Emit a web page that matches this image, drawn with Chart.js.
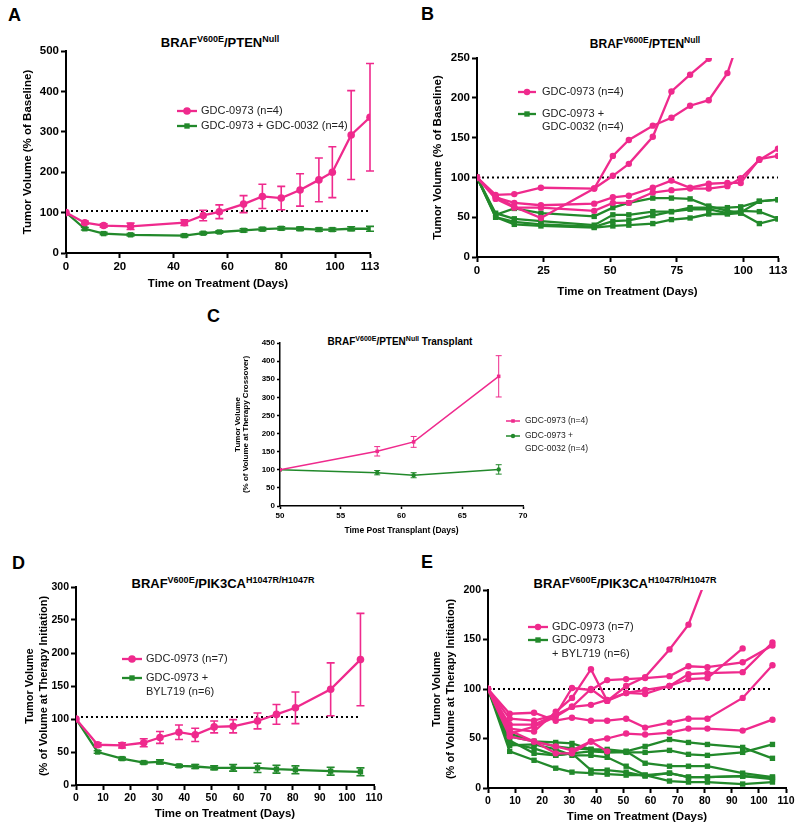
<!DOCTYPE html>
<html>
<head>
<meta charset="utf-8">
<script src="https://cdn.jsdelivr.net/npm/chart.js@4.4.1/dist/chart.umd.min.js"></script>
<style>
  body { margin: 0; background: #fff; font-family: 'Liberation Sans', Arial, sans-serif; }
  #fig { position: relative; width: 800px; height: 832px; overflow: hidden; background: #fff; }
  .box { position: absolute; }
  .lbl { position: absolute; font-weight: bold; font-size: 18px; line-height: 18px; }
  .ttl { position: absolute; width: 320px; text-align: center; font-weight: bold; white-space: nowrap; color: #000; }
  .ttl span { position: relative; }
</style>
</head>
<body>
<div id="fig">
  <div class="lbl" style="left:8px;top:6px">A</div>
  <div class="lbl" style="left:421px;top:5px">B</div>
  <div class="lbl" style="left:207px;top:307px">C</div>
  <div class="lbl" style="left:12px;top:554px">D</div>
  <div class="lbl" style="left:421px;top:553px">E</div>

  <div class="ttl" style="left:60px;top:35px;font-size:13px;line-height:16px">BRAF<span style="font-size:9px;top:-5px">V600E</span>/PTEN<span style="font-size:9px;top:-5px">Null</span></div>
  <div class="ttl" style="left:485px;top:37px;font-size:12px;line-height:14px">BRAF<span style="font-size:8.5px;top:-5px">V600E</span>/PTEN<span style="font-size:8.5px;top:-5px">Null</span></div>
  <div class="ttl" style="left:240px;top:336px;font-size:10px;line-height:12px">BRAF<span style="font-size:7px;top:-4px">V600E</span>/PTEN<span style="font-size:7px;top:-4px">Null</span> Transplant</div>
  <div class="ttl" style="left:63px;top:576px;font-size:13px;line-height:16px">BRAF<span style="font-size:9px;top:-5px">V600E</span>/PIK3CA<span style="font-size:9px;top:-5px">H1047R/H1047R</span></div>
  <div class="ttl" style="left:465px;top:576px;font-size:13px;line-height:16px">BRAF<span style="font-size:9px;top:-5px">V600E</span>/PIK3CA<span style="font-size:9px;top:-5px">H1047R/H1047R</span></div>

  <div class="box" style="left:0;top:30px;width:400px;height:270px"><canvas id="chartA"></canvas></div>
  <div class="box" style="left:400px;top:30px;width:400px;height:280px"><canvas id="chartB"></canvas></div>
  <div class="box" style="left:220px;top:320px;width:380px;height:220px"><canvas id="chartC"></canvas></div>
  <div class="box" style="left:0;top:570px;width:400px;height:262px"><canvas id="chartD"></canvas></div>
  <div class="box" style="left:400px;top:570px;width:400px;height:262px"><canvas id="chartE"></canvas></div>
</div>

<script>
// ---- data ----
// A: mean +/- error
const daysA = [0, 7, 14, 24, 44, 51, 57, 66, 73, 80, 87, 94, 99, 106, 113];
const meanA973 = [100, 75, 68, 66, 75, 93, 102, 121, 140, 136, 156, 181, 200, 292, 336];
const errA973 = [0, 4, 4, 8, 7, 13, 17, 21, 30, 29, 40, 54, 63, 110, 133];
const meanACombo = [100, 60, 48, 45, 43, 49, 52, 56, 59, 61, 60, 58, 58, 60, 60];
const errACombo = [0, 3, 3, 3, 3, 3, 3, 4, 4, 4, 4, 4, 4, 5, 6];
const ticksXA = [0, 20, 40, 60, 80, 100, 113];
const ticksYA = [0, 100, 200, 300, 400, 500];
const baseA = 104;

// B: individual animals
const daysB = [0, 7, 14, 24, 44, 51, 57, 66, 73, 80, 87, 94, 99, 106, 113];
const b973 = [
  [100, 78, 79, 87, 86, 127, 147, 165, 175, 190, 197, 231, 280],
  [100, 76, 63, 49, 86, 102, 117, 151, 208, 229, 249],
  [100, 75, 68, 65, 67, 75, 77, 87, 96, 87, 92, 93, 93, 123, 127],
  [100, 73, 62, 62, 58, 68, 68, 81, 84, 86, 86, 89, 99, 122, 136]
];
const bCombo = [
  [100, 53, 61, 55, 51, 62, 68, 74, 74, 73, 64, 58, 56, 70, 72],
  [100, 55, 48, 45, 40, 53, 53, 57, 57, 62, 62, 62, 63, 70, 72],
  [100, 50, 44, 41, 38, 45, 46, 52, 57, 60, 60, 55, 58, 57, 48],
  [100, 50, 41, 39, 37, 39, 40, 42, 47, 49, 54, 54, 55, 42, 48]
];
const ticksXB = [0, 25, 50, 75, 100, 113];
const ticksYB = [0, 50, 100, 150, 200, 250];
const baseB = 100;

// C: transplant, mean +/- error
const daysC = [50, 58, 61, 68];
const meanC973 = [100, 151, 177, 358];
const errC973 = [0, 13, 15, 57];
const meanCCombo = [100, 92, 85, 101];
const errCCombo = [0, 6, 7, 13];
const ticksXC = [50, 55, 60, 65, 70];
const ticksYC = [0, 50, 100, 150, 200, 250, 300, 350, 400, 450];

// D: mean +/- error
const daysD = [0, 8, 17, 25, 31, 38, 44, 51, 58, 67, 74, 81, 94, 105];
const meanD973 = [100, 61, 60, 64, 72, 80, 76, 88, 89, 97, 107, 117, 145, 190];
const errD973 = [0, 3, 4, 6, 9, 11, 10, 9, 10, 12, 15, 24, 40, 70];
const meanDCombo = [100, 50, 40, 34, 35, 29, 28, 26, 26, 26, 24, 23, 21, 20];
const errDCombo = [0, 2, 2, 2, 3, 2, 3, 3, 5, 7, 6, 6, 6, 6];
const ticksXD = [0, 10, 20, 30, 40, 50, 60, 70, 80, 90, 100, 110];
const ticksYD = [0, 50, 100, 150, 200, 250, 300];
const baseD = 103;

// E: individual animals
const daysE = [0, 8, 17, 25, 31, 38, 44, 51, 58, 67, 74, 81, 94, 105];
const e973 = [
  [100, 70, 68, 74, 101, 99, 109, 110, 111, 113, 123, 122, 127, 144],
  [100, 60, 57, 77, 91, 120, 88, 103, 112, 140, 165, 215],
  [100, 64, 64, 74, 82, 84, 89, 96, 95, 103, 110, 111, 141],
  [100, 55, 62, 72, 82, 100, 88, 96, 99, 103, 115, 116, 117, 147],
  [100, 75, 76, 68, 71, 68, 68, 70, 61, 66, 70, 70, 91, 124],
  [100, 52, 47, 42, 38, 47, 50, 55, 54, 56, 60, 60, 58, 69],
  [100, 58, 47, 35, 35, 47, 37]
];
const eCombo = [
  [100, 52, 47, 46, 45, 39, 39, 37, 42, 49, 46, 44, 41, 30],
  [100, 45, 40, 33, 35, 37, 36, 36, 36, 38, 34, 33, 36, 44],
  [100, 43, 44, 39, 33, 33, 31, 22, 13, 15, 11, 11, 12, 11],
  [100, 55, 47, 42, 40, 39, 36, 37, 25, 22, 22, 22, 15, 11],
  [100, 37, 28, 20, 16, 15, 14, 13, 13, 7, 6, 6, 4, 6],
  [100, 48, 35, 33, 35, 18, 18, 16, 12, 15, 11, 11, 12, 9]
];
const ticksXE = [0, 10, 20, 30, 40, 50, 60, 70, 80, 90, 100, 110];
const ticksYE = [0, 50, 100, 150, 200];
const baseE = 100;
const baseEndDE = 105;

// ---- styling ----
const pink = '#ef2a8d';
const green = '#22892b';
Chart.defaults.font.family = "'Liberation Sans', Arial, sans-serif";
Chart.defaults.color = '#000';

function series(days, vals, color, style, radius, width, errs) {
  return {
    data: vals.map((v, i) => ({ x: days[i], y: v })),
    borderColor: color, backgroundColor: color,
    borderWidth: width, pointStyle: style, pointRadius: radius,
    pointBorderWidth: 0, tension: 0, errorBars: errs || null
  };
}

function refLine(x0, x1, y) {
  return {
    data: [{ x: x0, y: y }, { x: x1, y: y }],
    borderColor: '#000', borderWidth: 2, borderDash: [2, 3],
    pointRadius: 0, errorBars: null
  };
}

// vertical error bars with caps, placed through the chart scales
const errorBars = {
  id: 'errorBars',
  afterDatasetsDraw(chart) {
    const ctx = chart.ctx;
    const ys = chart.scales.y;
    ctx.save();
    chart.data.datasets.forEach((ds, i) => {
      if (!ds.errorBars) return;
      const meta = chart.getDatasetMeta(i);
      const cap = ds.capHalf || 4;
      ctx.strokeStyle = ds.borderColor;
      ctx.lineWidth = ds.errWidth || 1.6;
      meta.data.forEach((pt, j) => {
        const e = ds.errorBars[j];
        if (!e) return;
        const v = ds.data[j].y;
        const yTop = ys.getPixelForValue(v + e);
        const yBot = ys.getPixelForValue(v - e);
        ctx.beginPath();
        ctx.moveTo(pt.x, yTop); ctx.lineTo(pt.x, yBot);
        ctx.moveTo(pt.x - cap, yTop); ctx.lineTo(pt.x + cap, yTop);
        ctx.moveTo(pt.x - cap, yBot); ctx.lineTo(pt.x + cap, yBot);
        ctx.stroke();
      });
    });
    ctx.restore();
  }
};

// legend drawn inside the plot like the original figure
const insideLegend = {
  id: 'insideLegend',
  afterDraw(chart, args, o) {
    if (!o || !o.items) return;
    const ctx = chart.ctx;
    ctx.save();
    ctx.font = o.font;
    ctx.textBaseline = 'middle';
    o.items.forEach(item => {
      const ds = chart.data.datasets[item.ds];
      ctx.strokeStyle = ds.borderColor;
      ctx.lineWidth = ds.borderWidth;
      ctx.beginPath();
      ctx.moveTo(o.x, item.y); ctx.lineTo(o.x + o.len, item.y);
      ctx.stroke();
      ctx.fillStyle = ds.backgroundColor;
      Chart.helpers.drawPoint(ctx, { pointStyle: ds.pointStyle, radius: ds.pointRadius, borderWidth: 0 }, o.x + o.len / 2, item.y);
      ctx.fillStyle = '#222';
      item.text.forEach((t, k) => ctx.fillText(t, o.x + o.len + o.gap, item.y + k * o.lh));
    });
    ctx.restore();
  }
};

function scalesFor(p) {
  const axisCommon = (ticksArr) => ({
    type: 'linear',
    min: ticksArr[0], max: ticksArr[ticksArr.length - 1],
    afterBuildTicks: s => { s.ticks = ticksArr.map(v => ({ value: v })); },
    grid: { drawOnChartArea: false, drawTicks: true, tickLength: p.tl, tickWidth: p.bw, tickColor: '#000', color: '#000' },
    border: { color: '#000', width: p.bw },
    ticks: { color: '#000', font: p.tickFont, padding: 2, maxRotation: 0, autoSkip: false }
  });
  const x = axisCommon(p.xTicks);
  x.afterFit = s => { s.height = p.xH; };
  x.title = { display: true, text: p.xTitle, color: '#000', font: p.titleFont, padding: { top: 0, bottom: p.xTitlePad } };
  const y = axisCommon(p.yTicks);
  y.afterFit = s => { s.width = p.yW; };
  y.title = { display: true, text: p.yTitle, color: '#000', font: p.yTitleFont || p.titleFont, padding: { top: p.yTitlePad, bottom: 0 } };
  return { x: x, y: y };
}

function makeChart(id, datasets, p, legend) {
  return new Chart(document.getElementById(id), {
    type: 'line',
    data: { datasets: datasets },
    plugins: [errorBars, insideLegend],
    options: {
      responsive: true, maintainAspectRatio: false, animation: false,
      devicePixelRatio: 1,
      layout: { padding: p.pad },
      scales: scalesFor(p),
      plugins: { legend: { display: false }, tooltip: { enabled: false }, insideLegend: legend }
    }
  });
}

const bigTick = { size: 11.5, weight: 'bold' };
const bigTitle = { size: 11.5, weight: 'bold' };
const lw = 2.3;

// A
makeChart('chartA', [
  series(daysA, meanA973, pink, 'circle', 3.8, lw, errA973),
  series(daysA, meanACombo, green, 'rect', 3.8, lw, errACombo),
  refLine(daysA[0], daysA[daysA.length - 1], baseA)
], {
  pad: { left: 0, top: 21, right: 30, bottom: 0 },
  xTicks: ticksXA, yTicks: ticksYA, xH: 47, yW: 66, tl: 5, bw: 2,
  tickFont: bigTick, titleFont: bigTitle,
  xTitle: 'Time on Treatment (Days)', xTitlePad: 9,
  yTitle: 'Tumor Volume (% of Baseline)', yTitlePad: 21
}, {
  x: 177, len: 20, gap: 4, lh: 13, font: '11px "Liberation Sans", Arial, sans-serif',
  items: [{ ds: 0, y: 81, text: ['GDC-0973 (n=4)'] }, { ds: 1, y: 96, text: ['GDC-0973 + GDC-0032 (n=4)'] }]
});

// B
const dsB = [];
b973.forEach(v => dsB.push(series(daysB, v, pink, 'circle', 3.2, lw)));
bCombo.forEach(v => dsB.push(series(daysB, v, green, 'rect', 3.8, lw)));
dsB.push(refLine(daysB[0], daysB[daysB.length - 1], baseB));
makeChart('chartB', dsB, {
  pad: { left: 0, top: 28, right: 22, bottom: 0 },
  xTicks: ticksXB, yTicks: ticksYB, xH: 53, yW: 77, tl: 5, bw: 2,
  tickFont: bigTick, titleFont: bigTitle,
  xTitle: 'Time on Treatment (Days)', xTitlePad: 11,
  yTitle: 'Tumor Volume (% of Baseline)', yTitlePad: 31
}, {
  x: 118, len: 18, gap: 6, lh: 13, font: '11px "Liberation Sans", Arial, sans-serif',
  items: [{ ds: 0, y: 62, text: ['GDC-0973 (n=4)'] }, { ds: 4, y: 84, text: ['GDC-0973 +', 'GDC-0032 (n=4)'] }]
});

// C
const dsC = [
  series(daysC, meanC973, pink, 'rect', 2.5, 1.5, errC973),
  series(daysC, meanCCombo, green, 'circle', 2.2, 1.5, errCCombo)
];
dsC[0].capHalf = 3; dsC[1].capHalf = 3; dsC[0].errWidth = 1; dsC[1].errWidth = 1;
makeChart('chartC', dsC, {
  pad: { left: 0, top: 23, right: 77, bottom: 0 },
  xTicks: ticksXC, yTicks: ticksYC, xH: 34, yW: 60, tl: 3, bw: 1.5,
  tickFont: { size: 8, weight: 'bold' }, titleFont: { size: 8.5, weight: 'bold' },
  yTitleFont: { size: 8, weight: 'bold', lineHeight: 1.1 },
  xTitle: 'Time Post Transplant (Days)', xTitlePad: 4,
  yTitle: ['Tumor Volume', '(% of Volume at Therapy Crossover)'], yTitlePad: 13
}, {
  x: 286, len: 14, gap: 5, lh: 13, font: '8.5px "Liberation Sans", Arial, sans-serif',
  items: [{ ds: 0, y: 101, text: ['GDC-0973 (n=4)'] }, { ds: 1, y: 116, text: ['GDC-0973 +', 'GDC-0032 (n=4)'] }]
});

// D
makeChart('chartD', [
  series(daysD, meanD973, pink, 'circle', 3.8, lw, errD973),
  series(daysD, meanDCombo, green, 'rect', 3.8, lw, errDCombo),
  refLine(daysD[0], baseEndDE, baseD)
], {
  pad: { left: 0, top: 17, right: 26, bottom: 0 },
  xTicks: ticksXD, yTicks: ticksYD, xH: 47, yW: 76, tl: 5, bw: 2,
  tickFont: { size: 10.5, weight: 'bold' }, titleFont: bigTitle,
  yTitleFont: { size: 11, weight: 'bold', lineHeight: 1.27 },
  xTitle: 'Time on Treatment (Days)', xTitlePad: 11,
  yTitle: ['Tumor Volume', '(% of Volume at Therapy Initiation)'], yTitlePad: 23
}, {
  x: 122, len: 20, gap: 4, lh: 14, font: '11px "Liberation Sans", Arial, sans-serif',
  items: [{ ds: 0, y: 89, text: ['GDC-0973 (n=7)'] }, { ds: 1, y: 108, text: ['GDC-0973 +', 'BYL719 (n=6)'] }]
});

// E
const dsE = [];
e973.forEach(v => dsE.push(series(daysE, v, pink, 'circle', 3.2, lw)));
eCombo.forEach(v => dsE.push(series(daysE, v, green, 'rect', 3.8, lw)));
dsE.push(refLine(daysE[0], baseEndDE, baseE));
makeChart('chartE', dsE, {
  pad: { left: 0, top: 20, right: 14, bottom: 0 },
  xTicks: ticksXE, yTicks: ticksYE, xH: 44, yW: 88, tl: 5, bw: 2,
  tickFont: { size: 10.5, weight: 'bold' }, titleFont: bigTitle,
  yTitleFont: { size: 11, weight: 'bold', lineHeight: 1.36 },
  xTitle: 'Time on Treatment (Days)', xTitlePad: 8,
  yTitle: ['Tumor Volume', '(% of Volume at Therapy Initiation)'], yTitlePad: 29
}, {
  x: 128, len: 20, gap: 4, lh: 14, font: '11px "Liberation Sans", Arial, sans-serif',
  items: [{ ds: 0, y: 57, text: ['GDC-0973 (n=7)'] }, { ds: 7, y: 70, text: ['GDC-0973', '+ BYL719 (n=6)'] }]
});
</script>
</body>
</html>
